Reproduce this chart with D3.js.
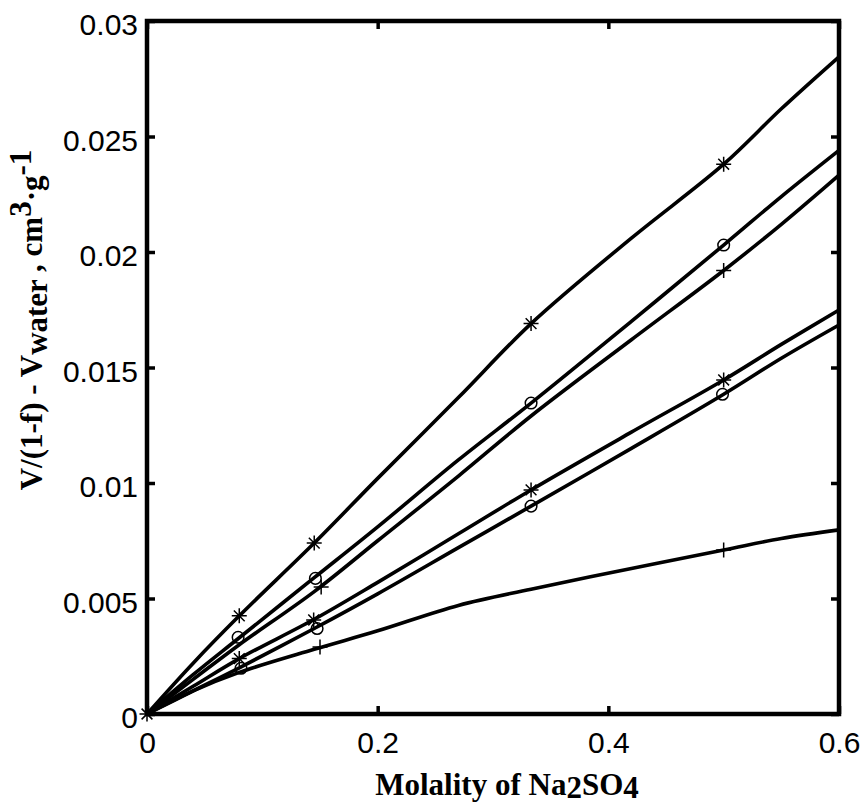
<!DOCTYPE html>
<html>
<head>
<meta charset="utf-8">
<script src="https://cdn.jsdelivr.net/npm/d3@7"></script>
<style>
  html, body { margin: 0; padding: 0; background: #fff; }
  svg { display: block; }
</style>
</head>
<body>
<svg id="chart" width="863" height="807"></svg>
<script>
// ---------- data ----------
const xTicks = [0, 0.2, 0.4, 0.6];
const xTickLabels = ["0", "0.2", "0.4", "0.6"];
const yTicks = [0, 0.005, 0.01, 0.015, 0.02, 0.025, 0.03];
const yTickLabels = ["0", "0.005", "0.01", "0.015", "0.02", "0.025", "0.03"];

// fitted curves, sampled at curveX
const curveX = [0, 0.04, 0.08, 0.145, 0.2, 0.27, 0.333, 0.42, 0.5, 0.55, 0.6];
const curveStar1   = [0, 0.0022, 0.00425, 0.0074, 0.0102, 0.0137, 0.0169, 0.0206, 0.0238, 0.0262, 0.02845];
const curveCircle1 = [0, 0.0017, 0.0033, 0.0059, 0.0081, 0.0110, 0.01346, 0.0170, 0.0203, 0.0224, 0.0244];
const curvePlus1   = [0, 0.0015, 0.0030, 0.0053, 0.0075, 0.0103, 0.0129, 0.0162, 0.0192, 0.0212, 0.02333];
const curveStar2   = [0, 0.0012, 0.0024, 0.0041, 0.0057, 0.0078, 0.0097, 0.0122, 0.01446, 0.0160, 0.01749];
const curveCircle2 = [0, 0.0010, 0.0020, 0.0037, 0.0052, 0.0072, 0.0090, 0.0115, 0.01384, 0.0154, 0.01684];
const curvePlus2   = [0, 0.0010, 0.0018, 0.0028, 0.0036, 0.0047, 0.0054, 0.0063, 0.0071, 0.0076, 0.00797];

// measured points (markers)
const star1X = [0, 0.08, 0.145, 0.333, 0.5];
const star1Y = [0, 0.00425, 0.0074, 0.0169, 0.0238];
const circle1X = [0.079, 0.146, 0.333, 0.5];
const circle1Y = [0.00332, 0.00587, 0.01346, 0.0203];
const plus1X = [0.151, 0.5];
const plus1Y = [0.0055, 0.0192];
const star2X = [0.08, 0.1445, 0.333, 0.5];
const star2Y = [0.0024, 0.00407, 0.0097, 0.01446];
const circle2X = [0.0815, 0.1475, 0.333, 0.499];
const circle2Y = [0.00198, 0.0037, 0.0090, 0.01384];
const plus2X = [0.15, 0.5];
const plus2Y = [0.0029, 0.0071];

// ---------- layout ----------
const svg = d3.select("#chart");
const L = 147, R = 839, T = 21, B = 714;
const x = d3.scaleLinear().domain([0, 0.6]).range([L, R]);
const y = d3.scaleLinear().domain([0, 0.03]).range([B, T]);

const tickFont = "'Liberation Sans', Arial, Helvetica, sans-serif";
const titleFont = "'Liberation Serif', 'Times New Roman', serif";

// curves
const line = d3.line().x(d => x(d[0])).y(d => y(d[1])).curve(d3.curveCatmullRom.alpha(0.5));
const curves = [curveStar1, curveCircle1, curvePlus1, curveStar2, curveCircle2, curvePlus2];
svg.append("g").selectAll("path").data(curves).join("path")
  .attr("d", c => line(curveX.map((xv, i) => [xv, c[i]])))
  .attr("fill", "none").attr("stroke", "#000").attr("stroke-width", 3.6)
  .attr("stroke-linejoin", "round").attr("stroke-linecap", "round");

// markers
const mk = svg.append("g").attr("fill", "none").attr("stroke", "#000").attr("stroke-width", 1.5);
function starPath(px, py, s) {
  const d = s * 0.72;
  return `M${px - s},${py}L${px + s},${py}M${px},${py - s}L${px},${py + s}` +
         `M${px - d},${py - d}L${px + d},${py + d}M${px - d},${py + d}L${px + d},${py - d}`;
}
function plusPath(px, py, s) {
  return `M${px - s},${py}L${px + s},${py}M${px},${py - s}L${px},${py + s}`;
}
function drawStars(xs, ys) {
  mk.append("g").selectAll("path").data(xs.map((v, i) => [v, ys[i]])).join("path")
    .attr("d", d => starPath(x(d[0]), y(d[1]), 7.5));
}
function drawCircles(xs, ys) {
  mk.append("g").selectAll("circle").data(xs.map((v, i) => [v, ys[i]])).join("circle")
    .attr("cx", d => x(d[0])).attr("cy", d => y(d[1])).attr("r", 5.8);
}
function drawPlus(xs, ys) {
  mk.append("g").selectAll("path").data(xs.map((v, i) => [v, ys[i]])).join("path")
    .attr("d", d => plusPath(x(d[0]), y(d[1]), 7.5));
}
drawStars(star1X, star1Y);
drawCircles(circle1X, circle1Y);
drawPlus(plus1X, plus1Y);
drawStars(star2X, star2Y);
drawCircles(circle2X, circle2Y);
drawPlus(plus2X, plus2Y);

// axes
const axB = svg.append("g").attr("transform", `translate(0,${B})`)
  .call(d3.axisBottom(x).tickValues(xTicks).tickSize(-8).tickPadding(18)
        .tickFormat((d, i) => xTickLabels[i]));
const axT = svg.append("g").attr("transform", `translate(0,${T})`)
  .call(d3.axisTop(x).tickValues(xTicks).tickSize(-8).tickFormat(""));
const axL = svg.append("g").attr("transform", `translate(${L},0)`)
  .call(d3.axisLeft(y).tickValues(yTicks).tickSize(-8).tickPadding(9)
        .tickFormat((d, i) => yTickLabels[i]));
const axR = svg.append("g").attr("transform", `translate(${R},0)`)
  .call(d3.axisRight(y).tickValues(yTicks).tickSize(-8).tickFormat(""));

[axB, axT, axL, axR].forEach(a => {
  a.select(".domain").remove();
  a.selectAll(".tick line").attr("stroke", "#000").attr("stroke-width", 3.5);
  a.selectAll(".tick text").attr("fill", "#000")
    .style("font-family", tickFont).style("font-size", "30px");
});
axL.selectAll(".tick text").attr("dy", "0.45em");

// frame
svg.append("rect").attr("x", L).attr("y", T).attr("width", R - L).attr("height", B - T)
  .attr("fill", "none").attr("stroke", "#000").attr("stroke-width", 4.5);

// x title
const xt = svg.append("text").attr("x", 507).attr("y", 795)
  .attr("text-anchor", "middle").attr("fill", "#000")
  .style("font-family", titleFont).style("font-size", "31px").style("font-weight", "bold");
xt.append("tspan").text("Molality of Na");
xt.append("tspan").attr("dy", 3).text("2");
xt.append("tspan").attr("dy", -3).text("SO");
xt.append("tspan").attr("dy", 3).text("4");

// y title
const yt = svg.append("text").attr("transform", "translate(42,320) rotate(-90)")
  .attr("text-anchor", "middle").attr("fill", "#000")
  .style("font-family", titleFont).style("font-size", "31px").style("font-weight", "bold");
yt.append("tspan").text("V/(1-f) - V");
yt.append("tspan").attr("dy", 5).text("water");
yt.append("tspan").attr("dy", -5).text(" , cm");
yt.append("tspan").attr("dy", -11).text("3");
yt.append("tspan").attr("dy", 11).text("\u00B7g");
yt.append("tspan").attr("dy", -11).text("-1");
</script>
</body>
</html>
